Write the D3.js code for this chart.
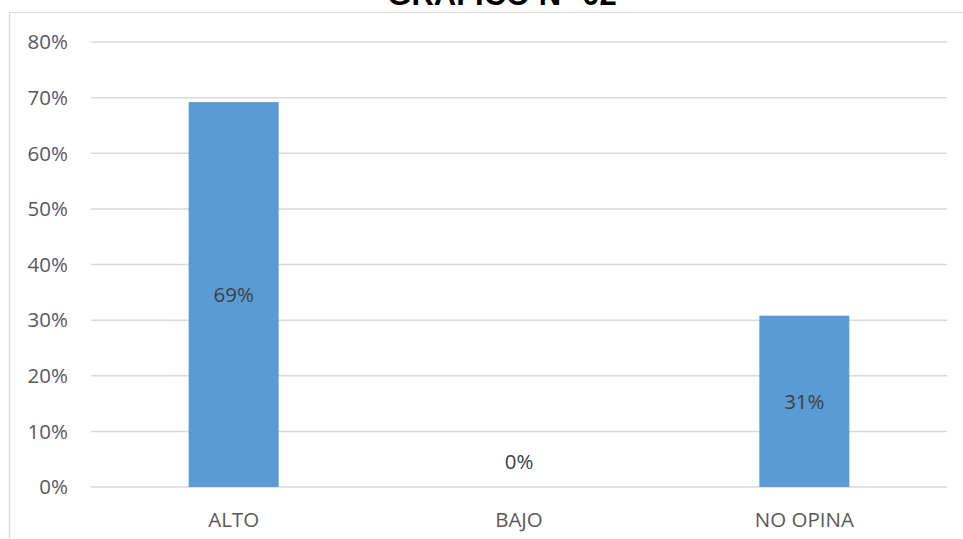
<!DOCTYPE html>
<html><head><meta charset="utf-8">
<script src="https://cdn.jsdelivr.net/npm/d3@7"></script>
<style>html,body{margin:0;padding:0;background:#fff;}</style>
</head><body>
<svg id="c" width="963" height="539"></svg>
<script>
const categories = ["ALTO", "BAJO", "NO OPINA"];
const values = [0.692, 0, 0.308];
const labels = ["69%", "0%", "31%"];
const ticks = [0, 0.1, 0.2, 0.3, 0.4, 0.5, 0.6, 0.7, 0.8];
const title = "GRAFICO N° 02";

const svg = d3.select("#c");
const plotLeft = 91, plotRight = 947, plotTop = 42, plotBottom = 487;
const x = d3.scaleBand().domain(categories).range([plotLeft, plotRight]).paddingInner(0.6846).paddingOuter(0.3423);
const y = d3.scaleLinear().domain([0, 0.8]).range([plotBottom, plotTop]);
const font = "'Open Sans', sans-serif";

// chart border (partial, clipped)
svg.append("line").attr("x1", 9.5).attr("x2", 963).attr("y1", 12.5).attr("y2", 12.5).attr("stroke", "#d9d9d9").attr("stroke-width", 1.2);
svg.append("line").attr("x1", 9.5).attr("x2", 9.5).attr("y1", 12.5).attr("y2", 539).attr("stroke", "#d9d9d9").attr("stroke-width", 1.2);

// title
svg.append("text").attr("x", 502).attr("y", 5).attr("text-anchor", "middle")
  .attr("font-family", "'Liberation Sans', Arial, sans-serif").attr("font-weight", "bold")
  .attr("font-size", 31).attr("fill", "#000").text(title);

// gridlines
svg.append("g").selectAll("line").data(ticks).join("line")
  .attr("x1", plotLeft).attr("x2", plotRight)
  .attr("y1", d => y(d)).attr("y2", d => y(d))
  .attr("stroke", "#d9d9d9").attr("stroke-width", 1.5);

// y tick labels
svg.append("g").selectAll("text").data(ticks).join("text")
  .attr("x", 68).attr("y", d => y(d) + 7.3).attr("text-anchor", "end")
  .attr("font-family", font).attr("font-size", 20.5).attr("fill", "#595959")
  .text(d => d3.format(".0%")(d));

// bars
svg.append("g").selectAll("rect").data(values).join("rect")
  .attr("x", (d, i) => x(categories[i])).attr("width", x.bandwidth())
  .attr("y", d => y(d)).attr("height", d => y(0) - y(d))
  .attr("fill", "#5b9bd5");

// value labels
svg.append("g").selectAll("text").data(values).join("text")
  .attr("x", (d, i) => x(categories[i]) + x.bandwidth() / 2)
  .attr("y", d => (d > 0 ? (y(d) + y(0)) / 2 : y(0) - 25) + 7.3)
  .attr("text-anchor", "middle")
  .attr("font-family", font).attr("font-size", 20.5).attr("fill", "#404040")
  .text((d, i) => labels[i]);

// category labels
svg.append("g").selectAll("text").data(categories).join("text")
  .attr("x", d => x(d) + x.bandwidth() / 2).attr("y", 526.5)
  .attr("text-anchor", "middle")
  .attr("font-family", font).attr("font-size", 20.5).attr("fill", "#595959")
  .text(d => d);
</script>
</body></html>
